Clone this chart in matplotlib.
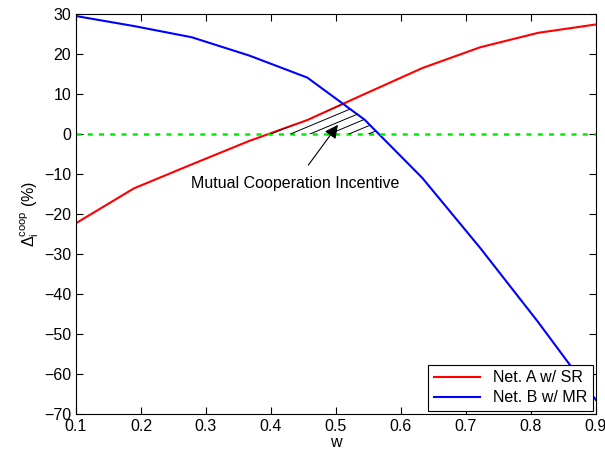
from matplotlib import pyplot as plt
import numpy as np

plt.rcParams['font.family'] = ['Liberation Sans', 'DejaVu Sans']
plt.rcParams['mathtext.fontset'] = 'custom'
plt.rcParams['mathtext.rm'] = 'Liberation Sans'
plt.rcParams['mathtext.it'] = 'Liberation Sans'

w = [0.1, 0.189, 0.278, 0.367, 0.456, 0.544, 0.633, 0.722, 0.811, 0.9]
net_a = [-22.3, -13.6, -7.6, -1.7, 3.5, 10.0, 16.5, 21.7, 25.3, 27.4]
net_b = [29.5, 27.0, 24.2, 19.6, 14.1, 3.6, -11.0, -28.5, -47.0, -66.5]

fig = plt.figure(figsize=(6.05, 4.53), dpi=100)
ax = fig.add_axes([0.1256, 0.0861, 0.8594, 0.8829])

ax.plot(w, net_a, color='red', lw=1.5, label='Net. A w/ SR')
ax.plot(w, net_b, color='blue', lw=1.5, label='Net. B w/ MR')
ax.axhline(0, color='#00ee00', ls=(0, (2, 2.5)), lw=1.8)

# region where both incentives are positive, hatched with shallow lines
wf = np.linspace(0.1, 0.9, 801)
lo = np.minimum(np.interp(wf, w, net_a), np.interp(wf, w, net_b))
region = ax.fill_between(wf, 0, lo, where=lo > 0, facecolor='none', lw=0)
slope = 68.0
for x0 in np.arange(0.40, 0.62, 0.03):
    hx = np.array([x0 - 0.2, x0 + 0.2])
    ln, = ax.plot(hx, slope * (hx - x0), color='black', lw=0.7)
    ln.set_clip_path(region.get_paths()[0], region.get_transform())

ax.annotate('Mutual Cooperation Incentive', xy=(0.503, 2.3), xytext=(0.437, -12.3),
            ha='center', va='center', fontsize=11.5,
            arrowprops=dict(arrowstyle='-|>', color='black', lw=0.8,
                            mutation_scale=20, shrinkA=7, shrinkB=0))

ax.set_xlim(0.1, 0.9)
ax.set_ylim(-70, 30)
ax.set_xticks(np.arange(0.1, 0.91, 0.1))
ax.set_xticklabels(['0.1', '0.2', '0.3', '0.4', '0.5', '0.6', '0.7', '0.8', '0.9'])
ax.set_yticks(np.arange(-70, 31, 10))
ax.tick_params(direction='in', top=True, right=True, labelsize=11.5, length=5)
ax.set_xlabel('w', fontsize=11.5, labelpad=1)
ax.set_ylabel(r'$\Delta_i^{\mathrm{coop}}$ (%)', fontsize=11.5, labelpad=2)

leg = ax.legend(loc='lower right', fontsize=11.5, fancybox=False, framealpha=1,
                edgecolor='black', borderaxespad=0.2, handlelength=2.9,
                borderpad=0.35, labelspacing=0.3)
leg.get_frame().set_linewidth(0.8)

fig.savefig('out.png', dpi=100)
